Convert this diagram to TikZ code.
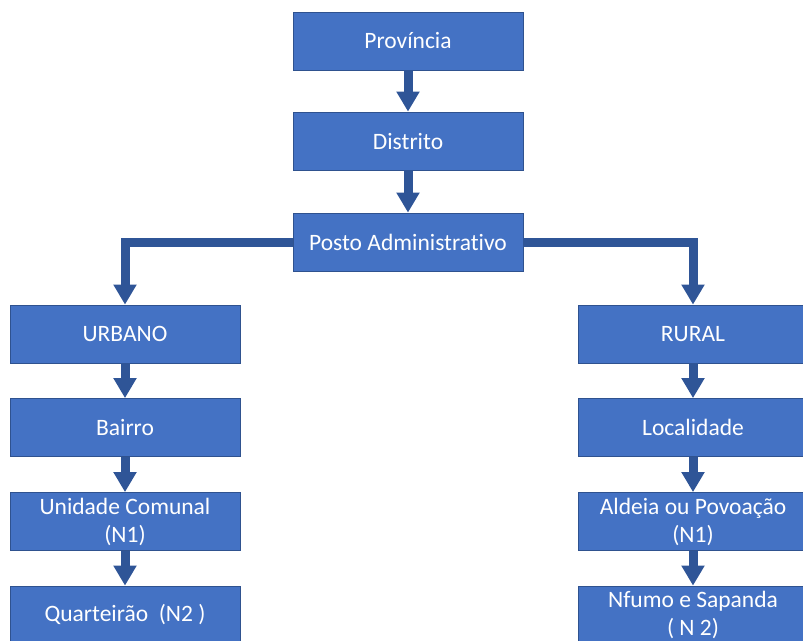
\documentclass[tikz,border=0pt]{standalone}
\usepackage{fontspec}
\setmainfont[Ligatures=NoCommon]{Carlito}
\usetikzlibrary{arrows.meta}
\definecolor{boxfill}{HTML}{4472C4}
\definecolor{boxedge}{HTML}{2F528F}
\definecolor{arrowc}{HTML}{2F5597}
\tikzset{
  unitbox/.style={rectangle, fill=boxfill, draw=boxedge, line width=0.8pt,
    minimum width=230pt, minimum height=58pt, inner sep=0pt, text=white,
    align=center, font=\fontsize{23.5}{28}\selectfont},
  conn/.style={draw=arrowc, line width=9pt, line join=miter,
    -{Triangle[width=22pt,length=20pt]}}
}
\begin{document}
\begin{tikzpicture}[x=1pt,y=-1pt]
\useasboundingbox (0,0) rectangle (803,640);
\node[unitbox] (prov) at (408,41) {Província};
\node[unitbox] (dist) at (408,141) {Distrito};
\node[unitbox] (posto) at (408,242) {Posto Administrativo};
\node[unitbox] (urb) at (125,334) {URBANO};
\node[unitbox] (bai) at (125,427.5) {Bairro};
\node[unitbox] (uni) at (125,521.5) {Unidade Comunal\\(N1)};
\node[unitbox] (qua) at (125,615) {Quarteirão\ \ (N2 )};
\node[unitbox] (rur) at (693,334) {RURAL};
\node[unitbox] (loc) at (693,427.5) {Localidade};
\node[unitbox] (ald) at (693,521.5) {Aldeia ou Povoação\\(N1)};
\node[unitbox] (nfu) at (693,615) {Nfumo e Sapanda\\( N 2)};
\draw[conn] (prov) -- (dist);
\draw[conn] (dist) -- (posto);
\draw[conn] (posto.west) -| (urb.north);
\draw[conn] (posto.east) -| (rur.north);
\draw[conn] (urb) -- (bai);
\draw[conn] (bai) -- (uni);
\draw[conn] (uni) -- (qua);
\draw[conn] (rur) -- (loc);
\draw[conn] (loc) -- (ald);
\draw[conn] (ald) -- (nfu);
\end{tikzpicture}
\end{document}
